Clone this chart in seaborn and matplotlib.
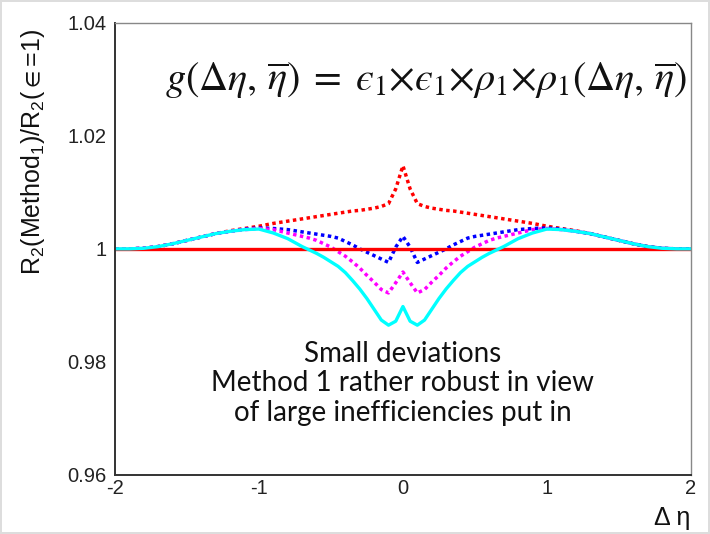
import matplotlib
matplotlib.use("Agg")
import matplotlib.pyplot as plt
import seaborn as sns
import pandas as pd

# Delta-eta positions (finer spacing in the central region)
delta_eta = [-2.0, -1.9, -1.8, -1.7, -1.6, -1.5, -1.4, -1.3, -1.2, -1.1,
             -1.0, -0.9, -0.8, -0.7, -0.65, -0.6, -0.55, -0.5, -0.45, -0.4,
             -0.35, -0.3, -0.25, -0.2, -0.15, -0.1, -0.05, 0.0,
             0.05, 0.1, 0.15, 0.2, 0.25, 0.3, 0.35, 0.4, 0.45, 0.5,
             0.55, 0.6, 0.65, 0.7, 0.8, 0.9, 1.0, 1.1, 1.2, 1.3,
             1.4, 1.5, 1.6, 1.7, 1.8, 1.9, 2.0]

# R2(Method1)/R2(eps=1) for the four efficiency scenarios
ratio_red = [1.0000, 1.0000, 1.0001, 1.0004, 1.0009, 1.0015, 1.0021, 1.0027, 1.0032, 1.0036,
             1.0040, 1.0045, 1.0049, 1.0053, 1.0055, 1.0057, 1.0059, 1.0061, 1.0063, 1.0065,
             1.0067, 1.0068, 1.0070, 1.0072, 1.0075, 1.0080, 1.0106, 1.0147,
             1.0106, 1.0080, 1.0075, 1.0072, 1.0070, 1.0068, 1.0067, 1.0065, 1.0063, 1.0061,
             1.0059, 1.0057, 1.0055, 1.0053, 1.0049, 1.0045, 1.0040, 1.0036, 1.0032, 1.0027,
             1.0021, 1.0015, 1.0009, 1.0004, 1.0001, 1.0000, 1.0000]

ratio_blue = [1.0000, 1.0000, 1.0001, 1.0004, 1.0009, 1.0015, 1.0021, 1.0027, 1.0031, 1.0035,
              1.0037, 1.0036, 1.0034, 1.0030, 1.0028, 1.0026, 1.0024, 1.0022, 1.0019, 1.0013,
              1.0007, 1.0000, 0.9994, 0.9988, 0.9982, 0.9976, 1.0003, 1.0022,
              1.0003, 0.9976, 0.9982, 0.9988, 0.9994, 1.0000, 1.0007, 1.0013, 1.0019, 1.0022,
              1.0024, 1.0026, 1.0028, 1.0030, 1.0034, 1.0036, 1.0037, 1.0035, 1.0031, 1.0027,
              1.0021, 1.0015, 1.0009, 1.0004, 1.0001, 1.0000, 1.0000]

ratio_magenta = [1.0000, 1.0000, 1.0001, 1.0004, 1.0009, 1.0015, 1.0021, 1.0027, 1.0031, 1.0034,
                 1.0036, 1.0034, 1.0028, 1.0022, 1.0019, 1.0015, 1.0009, 1.0003, 0.9995, 0.9987,
                 0.9977, 0.9966, 0.9953, 0.9941, 0.9928, 0.9922, 0.9940, 0.9959,
                 0.9940, 0.9922, 0.9928, 0.9941, 0.9953, 0.9966, 0.9977, 0.9987, 0.9995, 1.0003,
                 1.0009, 1.0015, 1.0019, 1.0022, 1.0028, 1.0034, 1.0036, 1.0034, 1.0031, 1.0027,
                 1.0021, 1.0015, 1.0009, 1.0004, 1.0001, 1.0000, 1.0000]

ratio_cyan = [1.0000, 1.0000, 1.0001, 1.0004, 1.0009, 1.0015, 1.0021, 1.0027, 1.0031, 1.0034,
              1.0035, 1.0028, 1.0018, 1.0004, 0.9998, 0.9992, 0.9985, 0.9977, 0.9969, 0.9958,
              0.9944, 0.9929, 0.9912, 0.9893, 0.9874, 0.9865, 0.9872, 0.9898,
              0.9872, 0.9865, 0.9874, 0.9893, 0.9912, 0.9929, 0.9944, 0.9958, 0.9969, 0.9977,
              0.9985, 0.9992, 0.9998, 1.0004, 1.0018, 1.0028, 1.0035, 1.0034, 1.0031, 1.0027,
              1.0021, 1.0015, 1.0009, 1.0004, 1.0001, 1.0000, 1.0000]

# Reference line at unity
unity_x = [-2.0, 2.0]
unity_y = [1.0, 1.0]

x_ticks = [-2, -1, 0, 1, 2]
x_tick_labels = ["-2", "-1", "0", "1", "2"]
y_ticks = [0.96, 0.98, 1.0, 1.02, 1.04]
y_tick_labels = ["0.96", "0.98", "1", "1.02", "1.04"]

sns.set_style("white")
plt.rcParams["font.family"] = ["Liberation Sans", "DejaVu Sans"]
plt.rcParams["mathtext.fontset"] = "custom"
plt.rcParams["mathtext.rm"] = "Liberation Sans"
plt.rcParams["mathtext.it"] = "Liberation Sans:italic"
plt.rcParams["mathtext.bf"] = "Liberation Sans:bold"
plt.rcParams["mathtext.fallback"] = "stixsans"

df = pd.DataFrame({
    "deta": delta_eta,
    "red": ratio_red,
    "blue": ratio_blue,
    "magenta": ratio_magenta,
    "cyan": ratio_cyan,
})

fig = plt.figure(figsize=(7.1, 5.34), dpi=100)
fig.patch.set_facecolor("white")
fig.patch.set_edgecolor("#dddddd")
fig.patch.set_linewidth(1.5)
ax = fig.add_axes([0.162, 0.1105, 0.811, 0.847])

dotted = (0, (1, 1))
sns.lineplot(data=df, x="deta", y="red", ax=ax, color="#ff0000", lw=2.5,
             linestyle=dotted, dash_capstyle="butt", sort=True)
sns.lineplot(data=df, x="deta", y="blue", ax=ax, color="#0000ff", lw=2.5,
             linestyle=dotted, dash_capstyle="butt", sort=True)
sns.lineplot(data=df, x="deta", y="magenta", ax=ax, color="#ff00ff", lw=2.5,
             linestyle=dotted, dash_capstyle="butt", sort=True)
sns.lineplot(x=unity_x, y=unity_y, ax=ax, color="#ff0000", lw=2.4)
sns.lineplot(data=df, x="deta", y="cyan", ax=ax, color="#00ffff", lw=2.4, sort=True)

ax.set_xlim(-2, 2)
ax.set_ylim(0.96, 1.04)
ax.set_xticks(x_ticks)
ax.set_xticklabels(x_tick_labels)
ax.set_yticks(y_ticks)
ax.set_yticklabels(y_tick_labels)
ax.tick_params(axis="both", direction="in", length=8, width=0.8, color="#777777",
               labelsize=14.5, colors="#222222")
ax.tick_params(axis="x", pad=3)
ax.tick_params(axis="y", pad=6)
ax.set_xlabel("")
ax.set_ylabel("")

for side in ["left", "bottom"]:
    ax.spines[side].set_color("#333333")
    ax.spines[side].set_linewidth(1.4)
for side in ["top", "right"]:
    ax.spines[side].set_color("#888888")
    ax.spines[side].set_linewidth(1.0)

# Axis titles in the corner positions
fig.text(33 / 710, 1 - 152 / 534,
         r"R$_{\mathrm{2}}$(Method$_{\mathrm{1}}$)/R$_{\mathrm{2}}$($\in$=1)",
         rotation=90, ha="center", va="center", fontsize=18, color="#111111")
fig.text(690 / 710, 1 - 518 / 534, "Δ η", ha="right", va="center",
         fontsize=18, color="#111111")

# Efficiency model
eps = "\u03f5"
formula = (r"$g(\Delta\eta,\,\overline{\eta})\;=\;" + eps + r"_1{\times}" + eps
           + r"_1{\times}\rho_1{\times}\rho_1(\Delta\eta,\,\overline{\eta})$")
fig.text(165 / 710, 1 - 80 / 534, formula,
         ha="left", va="center", fontsize=29, math_fontfamily="stix", color="#111111")

# Comment block
ax.text(0.0, 0.9762, "Small deviations\nMethod 1 rather robust in view\nof large inefficiencies put in",
        ha="center", va="center", fontsize=20, family="Lato", color="#111111",
        linespacing=1.18)

fig.savefig("out.png", dpi=100)
